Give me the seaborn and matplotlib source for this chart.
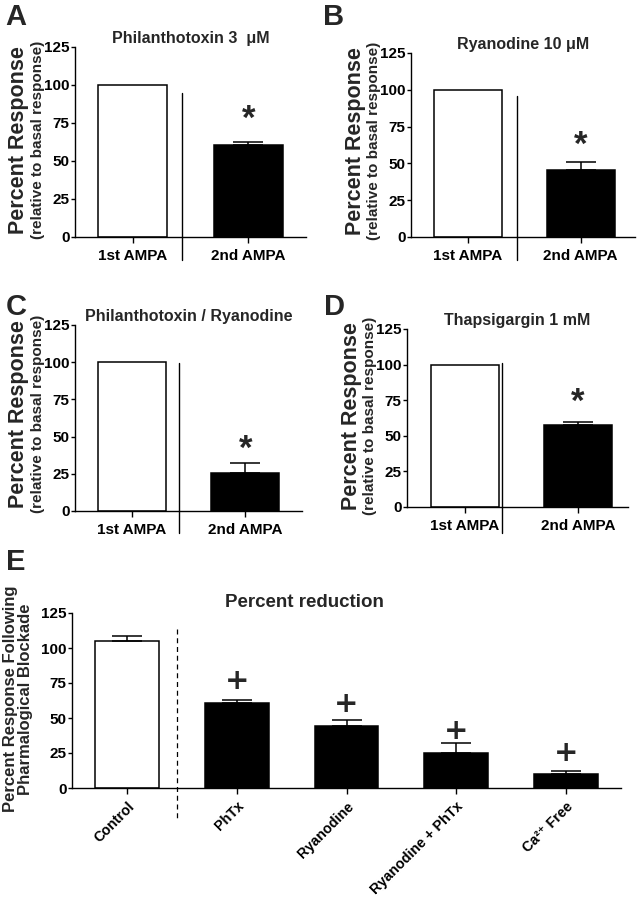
import matplotlib
matplotlib.use("Agg")
import matplotlib.pyplot as plt
import seaborn as sns
import numpy as np

# ---------------- data ----------------
pair_cats = ["1st AMPA", "2nd AMPA"]
a_vals = [100, 60.5]
a_errs = [0, 2.0]
b_vals = [100, 45.5]
b_errs = [0, 5.5]
c_vals = [100, 25.5]
c_errs = [0, 6.5]
d_vals = [100, 57.5]
d_errs = [0, 2.5]

e_cats = ["Control", "PhTx", "Ryanodine", "Ryanodine + PhTx", "Ca\u00b2\u207a Free"]
e_vals = [105, 61, 44.5, 25, 10.2]
e_errs = [3.5, 2.2, 4.0, 7.4, 1.7]

titles = ["Philanthotoxin 3  \u03bcM", "Ryanodine 10 \u03bcM",
          "Philanthotoxin / Ryanodine", "Thapsigargin 1 mM"]
panel_letters = ["A", "B", "C", "D", "E"]
yticks = [0, 25, 50, 75, 100, 125]

sns.set_theme(style="ticks")
plt.rcParams["font.family"] = ["Liberation Sans", "DejaVu Sans"]
plt.rcParams["font.weight"] = "bold"
plt.rcParams["axes.linewidth"] = 1.0

W, H = 638, 899
fig = plt.figure(figsize=(W / 100, H / 100), dpi=100)


def rect(left, right, top, bottom):
    return [left / W, 1 - bottom / H, (right - left) / W, (bottom - top) / H]


def style_axes(ax):
    sns.despine(ax=ax)
    ax.set_ylim(0, 125)
    ax.set_yticks(yticks)
    ax.tick_params(axis="y", length=3, width=1, pad=1, labelsize=11, colors="black")
    ax.tick_params(axis="x", length=4, width=1, pad=5, labelsize=11, colors="black")
    for s in ax.spines.values():
        s.set_color("black")
    for lab in ax.get_yticklabels() + ax.get_xticklabels():
        lab.set_fontweight("bold")
    ax.set_xlabel("")
    ax.set_ylabel("")


def draw_bars(ax, cats, vals, errs, colors, width=0.6):
    sns.barplot(x=cats, y=vals, hue=cats, palette=colors, edgecolor="black",
                linewidth=1.1, width=width, legend=False, ax=ax, errorbar=None,
                saturation=1)
    for i, (v, e) in enumerate(zip(vals, errs)):
        if e > 0:
            ax.errorbar([i], [v], yerr=[[0], [e]], fmt="none", ecolor="black",
                        elinewidth=1.1, capsize=10.5, capthick=1.1)


# ---- panels A-D ----
pair_specs = [
    (a_vals, a_errs, rect(75, 306, 47, 237), 0.43, (94.7, -15), 77.5, (-0.5, 1.5), 140, (0, 0)),
    (b_vals, b_errs, rect(411, 635, 53, 237), 0.44, (95.8, -15.5), 62.5, (-0.5, 1.48), 141, (318, 0)),
    (c_vals, c_errs, rect(75, 302, 325, 511), 0.42, (99.5, -14.8), 41.7, (-0.5, 1.5), 414, (0, 290)),
    (d_vals, d_errs, rect(407, 628, 329, 507), 0.33, (101, -18), 73.5, (-0.51, 1.44), 416, (318, 290)),
]

for k, (vals, errs, r, divx, divy, star_y, xl, ycen, off) in enumerate(pair_specs):
    ax = fig.add_axes(r)
    draw_bars(ax, pair_cats, vals, errs, ["white", "black"])
    ax.set_xlim(*xl)
    style_axes(ax)
    ax.set_title(titles[k], fontsize=11.5, fontweight="bold", pad=3)
    ax.plot([divx, divx], list(divy), color="black", lw=1.0, clip_on=False)
    ax.text(1, star_y, "*", ha="center", va="center", fontsize=25, fontweight="bold")
    left_px = r[0] * W
    fig.text((left_px - 56) / W, 1 - ycen / H, "Percent Response", rotation=90,
             ha="center", va="center", fontsize=15.5, fontweight="bold")
    fig.text((left_px - 37) / W, 1 - ycen / H, "(relative to basal response)", rotation=90,
             ha="center", va="center", fontsize=11, fontweight="bold")
    fig.text((off[0] + 16) / W, 1 - (off[1] + 17) / H, panel_letters[k],
             ha="center", va="center", fontsize=21, fontweight="bold")

# ---- panel E ----
axE = fig.add_axes(rect(72, 621, 613, 788))
draw_bars(axE, e_cats, e_vals, e_errs, ["white", "black", "black", "black", "black"], width=0.58)
axE.set_xlim(-0.5, 4.5)
style_axes(axE)
for lab in axE.get_xticklabels():
    lab.set_rotation(45)
    lab.set_ha("right")
    lab.set_rotation_mode("anchor")
    lab.set_fontsize(10.3)
axE.tick_params(axis="x", pad=4)
axE.plot([0.455, 0.455], [113.6, -22], color="black", lw=0.9, ls=(0, (4, 3)), clip_on=False)
plus_y = [None, 76.5, 60.2, 40.4, 24.9]
for i, py in enumerate(plus_y):
    if py is not None:
        axE.text(i, py, "+", ha="center", va="center", fontsize=21, fontweight="bold",
                 family="DejaVu Sans")
axE.text((304 - 72) / 549, 1.06, "Percent reduction", transform=axE.transAxes,
         ha="center", va="center", fontsize=13.5, fontweight="bold")
fig.text(18 / W, 1 - 699 / H, "Percent Response Following\nPharmalogical Blockade",
         rotation=90, ha="center", va="center", fontsize=12, fontweight="bold",
         linespacing=1.05)
fig.text(16 / W, 1 - 562 / H, "E", ha="center", va="center", fontsize=21, fontweight="bold")

fig.savefig("out.png", dpi=100, facecolor="white")
